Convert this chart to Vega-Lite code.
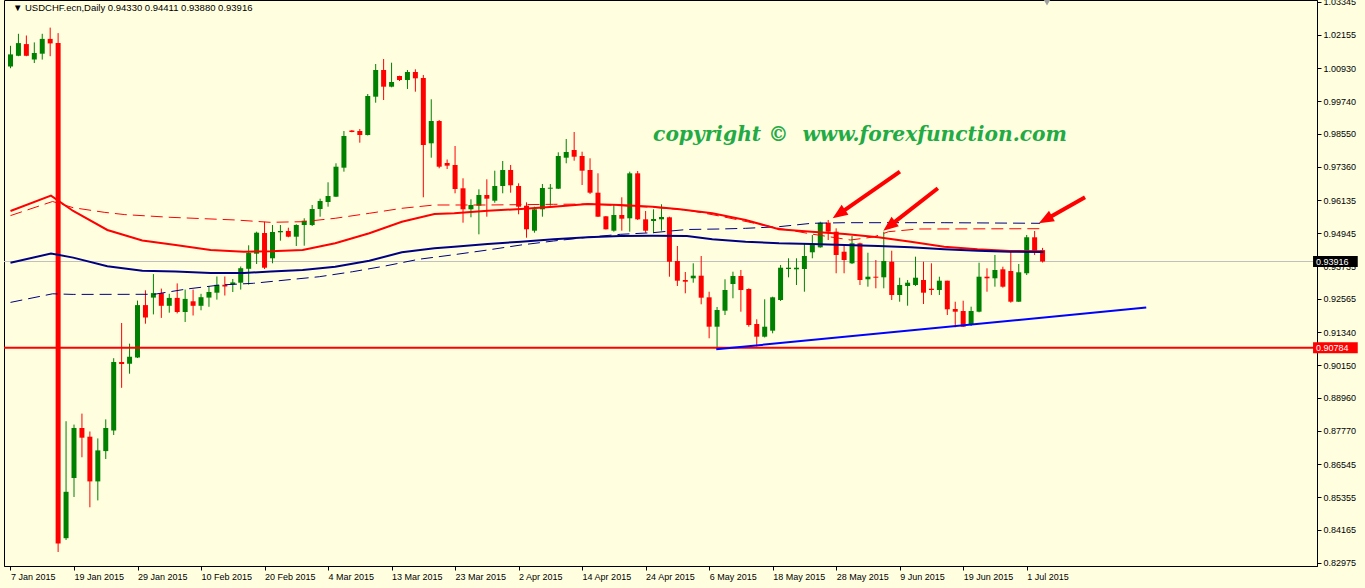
{
  "$schema": "https://vega.github.io/schema/vega-lite/v6.json",
  "width": 1313,
  "height": 566,
  "autosize": {"type": "none"},
  "padding": {"left": 4, "top": 0, "right": 48, "bottom": 22},
  "background": "#FFFFE0",
  "config": {
    "view": {"stroke": "#000000", "strokeWidth": 1, "fill": "#FFFFE0"},
    "axis": {"grid": false, "title": null, "domainColor": "#000000", "tickColor": "#000000", "labelColor": "#000000", "labelFont": "Liberation Sans", "labelFontSize": 9, "labelOverlap": false, "labelBound": false, "labelFlush": false, "tickSize": 4}
  },
  "datasets": {
    "candles": [
      {"k":0,"o":1.01000,"h":1.01752,"l":1.00938,"c":1.01440},
      {"k":1,"o":1.01389,"h":1.02188,"l":1.01374,"c":1.01850},
      {"k":2,"o":1.01814,"h":1.02126,"l":1.01374,"c":1.01389},
      {"k":3,"o":1.01251,"h":1.01876,"l":1.01127,"c":1.01487},
      {"k":4,"o":1.01465,"h":1.02188,"l":1.01251,"c":1.02003},
      {"k":5,"o":1.02003,"h":1.02413,"l":1.01374,"c":1.01839},
      {"k":6,"o":1.01850,"h":1.02213,"l":0.83364,"c":0.83676},
      {"k":7,"o":0.83865,"h":0.88115,"l":0.83800,"c":0.85551},
      {"k":8,"o":0.86052,"h":0.87992,"l":0.85362,"c":0.87868},
      {"k":9,"o":0.87868,"h":0.88391,"l":0.86804,"c":0.87516},
      {"k":10,"o":0.87552,"h":0.87741,"l":0.84988,"c":0.85928},
      {"k":11,"o":0.85928,"h":0.87490,"l":0.85238,"c":0.87055},
      {"k":12,"o":0.87029,"h":0.88181,"l":0.86742,"c":0.87868},
      {"k":13,"o":0.87777,"h":0.90404,"l":0.87614,"c":0.90266},
      {"k":14,"o":0.90266,"h":0.91682,"l":0.89328,"c":0.90193},
      {"k":15,"o":0.90204,"h":0.90931,"l":0.89841,"c":0.90455},
      {"k":16,"o":0.90429,"h":0.92496,"l":0.90411,"c":0.92333},
      {"k":17,"o":0.92333,"h":0.92870,"l":0.91657,"c":0.91882},
      {"k":18,"o":0.92605,"h":0.93459,"l":0.91995,"c":0.92769},
      {"k":19,"o":0.92769,"h":0.92932,"l":0.91868,"c":0.92307},
      {"k":20,"o":0.92307,"h":0.92743,"l":0.92057,"c":0.92594},
      {"k":21,"o":0.92594,"h":0.93121,"l":0.92031,"c":0.92082},
      {"k":22,"o":0.92082,"h":0.92896,"l":0.91719,"c":0.92558},
      {"k":23,"o":0.92471,"h":0.92896,"l":0.91955,"c":0.92307},
      {"k":24,"o":0.92307,"h":0.92743,"l":0.92144,"c":0.92620},
      {"k":25,"o":0.92605,"h":0.93019,"l":0.92271,"c":0.92808},
      {"k":26,"o":0.92783,"h":0.93372,"l":0.92532,"c":0.93070},
      {"k":27,"o":0.93070,"h":0.93372,"l":0.92681,"c":0.93008},
      {"k":28,"o":0.93081,"h":0.93281,"l":0.92808,"c":0.93157},
      {"k":29,"o":0.93146,"h":0.93735,"l":0.92896,"c":0.93673},
      {"k":30,"o":0.93651,"h":0.94505,"l":0.93074,"c":0.94232},
      {"k":31,"o":0.94200,"h":0.94999,"l":0.93826,"c":0.94963},
      {"k":32,"o":0.94952,"h":0.95362,"l":0.93644,"c":0.93691},
      {"k":33,"o":0.94033,"h":0.95242,"l":0.93851,"c":0.94988},
      {"k":34,"o":0.94977,"h":0.95242,"l":0.94672,"c":0.95024},
      {"k":35,"o":0.95024,"h":0.95144,"l":0.94796,"c":0.94817},
      {"k":36,"o":0.94817,"h":0.95268,"l":0.94480,"c":0.95242},
      {"k":37,"o":0.95242,"h":0.95486,"l":0.94490,"c":0.95399},
      {"k":38,"o":0.95242,"h":0.95969,"l":0.95206,"c":0.95824},
      {"k":39,"o":0.95824,"h":0.96198,"l":0.95544,"c":0.96114},
      {"k":40,"o":0.96078,"h":0.96794,"l":0.95907,"c":0.96296},
      {"k":41,"o":0.96270,"h":0.97484,"l":0.96260,"c":0.97360},
      {"k":42,"o":0.97324,"h":0.98657,"l":0.97179,"c":0.98475},
      {"k":43,"o":0.98675,"h":0.98693,"l":0.98610,"c":0.98621},
      {"k":44,"o":0.98657,"h":0.98730,"l":0.98232,"c":0.98512},
      {"k":45,"o":0.98512,"h":1.00001,"l":0.98494,"c":0.99928},
      {"k":46,"o":0.99903,"h":1.01091,"l":0.99685,"c":1.00873},
      {"k":47,"o":1.00873,"h":1.01272,"l":0.99783,"c":1.00266},
      {"k":48,"o":1.00266,"h":1.01138,"l":1.00244,"c":1.00437},
      {"k":49,"o":1.00655,"h":1.00666,"l":1.00473,"c":1.00510},
      {"k":50,"o":1.00510,"h":1.00873,"l":1.00183,"c":1.00800},
      {"k":51,"o":1.00800,"h":1.00898,"l":1.00085,"c":1.00571},
      {"k":52,"o":1.00582,"h":1.00691,"l":0.96249,"c":0.98148},
      {"k":53,"o":0.98210,"h":0.99809,"l":0.97687,"c":0.99020},
      {"k":54,"o":0.99020,"h":0.99057,"l":0.97302,"c":0.97360},
      {"k":55,"o":0.97495,"h":0.97622,"l":0.97277,"c":0.97397},
      {"k":56,"o":0.97422,"h":0.98112,"l":0.96394,"c":0.96550},
      {"k":57,"o":0.96576,"h":0.96939,"l":0.95326,"c":0.95813},
      {"k":58,"o":0.95813,"h":0.96176,"l":0.95522,"c":0.95969},
      {"k":59,"o":0.95943,"h":0.96539,"l":0.94904,"c":0.96332},
      {"k":60,"o":0.96332,"h":0.96902,"l":0.95544,"c":0.96198},
      {"k":61,"o":0.96125,"h":0.97215,"l":0.96052,"c":0.96659},
      {"k":62,"o":0.96659,"h":0.97567,"l":0.96394,"c":0.97240},
      {"k":63,"o":0.97240,"h":0.97422,"l":0.96416,"c":0.96685},
      {"k":64,"o":0.96659,"h":0.96757,"l":0.95631,"c":0.95907},
      {"k":65,"o":0.95943,"h":0.96067,"l":0.94781,"c":0.95086},
      {"k":66,"o":0.95035,"h":0.95907,"l":0.94963,"c":0.95813},
      {"k":67,"o":0.95813,"h":0.96732,"l":0.95544,"c":0.96586},
      {"k":68,"o":0.96561,"h":0.96732,"l":0.95943,"c":0.96597},
      {"k":69,"o":0.96561,"h":0.97883,"l":0.96550,"c":0.97749},
      {"k":70,"o":0.97687,"h":0.98366,"l":0.97484,"c":0.97894},
      {"k":71,"o":0.97967,"h":0.98621,"l":0.97578,"c":0.97723},
      {"k":72,"o":0.97749,"h":0.97905,"l":0.96695,"c":0.97215},
      {"k":73,"o":0.97240,"h":0.97665,"l":0.96369,"c":0.96416},
      {"k":74,"o":0.96416,"h":0.97120,"l":0.95533,"c":0.95544},
      {"k":75,"o":0.95558,"h":0.95569,"l":0.95079,"c":0.95086},
      {"k":76,"o":0.95035,"h":0.95994,"l":0.94999,"c":0.95606},
      {"k":77,"o":0.95606,"h":0.96249,"l":0.95035,"c":0.95471},
      {"k":78,"o":0.95486,"h":0.97179,"l":0.94999,"c":0.97120},
      {"k":79,"o":0.97120,"h":0.97204,"l":0.95424,"c":0.95449},
      {"k":80,"o":0.95449,"h":0.95751,"l":0.94963,"c":0.95035},
      {"k":81,"o":0.95388,"h":0.95813,"l":0.94941,"c":0.95460},
      {"k":82,"o":0.95449,"h":0.95994,"l":0.95035,"c":0.95533},
      {"k":83,"o":0.95522,"h":0.95544,"l":0.93364,"c":0.93909},
      {"k":84,"o":0.93935,"h":0.94480,"l":0.93027,"c":0.93219},
      {"k":85,"o":0.93244,"h":0.93535,"l":0.92761,"c":0.93183},
      {"k":86,"o":0.93306,"h":0.93851,"l":0.93146,"c":0.93401},
      {"k":87,"o":0.93401,"h":0.94116,"l":0.92362,"c":0.92601},
      {"k":88,"o":0.92616,"h":0.92819,"l":0.91127,"c":0.91548},
      {"k":89,"o":0.91548,"h":0.92264,"l":0.90740,"c":0.92155},
      {"k":90,"o":0.92129,"h":0.93270,"l":0.91973,"c":0.92881},
      {"k":91,"o":0.93099,"h":0.93546,"l":0.92580,"c":0.93390},
      {"k":92,"o":0.93390,"h":0.93608,"l":0.92093,"c":0.92881},
      {"k":93,"o":0.92917,"h":0.92943,"l":0.91548,"c":0.91610},
      {"k":94,"o":0.91646,"h":0.91817,"l":0.90829,"c":0.91185},
      {"k":95,"o":0.91185,"h":0.92543,"l":0.91156,"c":0.91548},
      {"k":96,"o":0.91403,"h":0.92638,"l":0.91308,"c":0.92616},
      {"k":97,"o":0.92518,"h":0.93789,"l":0.92482,"c":0.93691},
      {"k":98,"o":0.93644,"h":0.94033,"l":0.93342,"c":0.93691},
      {"k":99,"o":0.93633,"h":0.94033,"l":0.93063,"c":0.93691},
      {"k":100,"o":0.93644,"h":0.94578,"l":0.92819,"c":0.94116},
      {"k":101,"o":0.94251,"h":0.94879,"l":0.94033,"c":0.94541},
      {"k":102,"o":0.94432,"h":0.95362,"l":0.94418,"c":0.95326},
      {"k":103,"o":0.95326,"h":0.95424,"l":0.94697,"c":0.94999},
      {"k":104,"o":0.94999,"h":0.95122,"l":0.93488,"c":0.94153},
      {"k":105,"o":0.94272,"h":0.94516,"l":0.93488,"c":0.93971},
      {"k":106,"o":0.93851,"h":0.94843,"l":0.93826,"c":0.94578},
      {"k":107,"o":0.94578,"h":0.94599,"l":0.93063,"c":0.93244},
      {"k":108,"o":0.93270,"h":0.94236,"l":0.93001,"c":0.93364},
      {"k":109,"o":0.93364,"h":0.93971,"l":0.92943,"c":0.93328},
      {"k":110,"o":0.93342,"h":0.94999,"l":0.92943,"c":0.93935},
      {"k":111,"o":0.93909,"h":0.94309,"l":0.92518,"c":0.92700},
      {"k":112,"o":0.92700,"h":0.93328,"l":0.92456,"c":0.93063},
      {"k":113,"o":0.93027,"h":0.93244,"l":0.92311,"c":0.93146},
      {"k":114,"o":0.93063,"h":0.94091,"l":0.93027,"c":0.93328},
      {"k":115,"o":0.93244,"h":0.93909,"l":0.92373,"c":0.92783},
      {"k":116,"o":0.92928,"h":0.93851,"l":0.92700,"c":0.92881},
      {"k":117,"o":0.92881,"h":0.93364,"l":0.92700,"c":0.93219},
      {"k":118,"o":0.93219,"h":0.93219,"l":0.91973,"c":0.92180},
      {"k":119,"o":0.92191,"h":0.92456,"l":0.91526,"c":0.92093},
      {"k":120,"o":0.92118,"h":0.92492,"l":0.91537,"c":0.91548},
      {"k":121,"o":0.91610,"h":0.92275,"l":0.91573,"c":0.92118},
      {"k":122,"o":0.92093,"h":0.93873,"l":0.92071,"c":0.93364},
      {"k":123,"o":0.93364,"h":0.93669,"l":0.92819,"c":0.93306},
      {"k":124,"o":0.93306,"h":0.94153,"l":0.93001,"c":0.93608},
      {"k":125,"o":0.93633,"h":0.93728,"l":0.92965,"c":0.93001},
      {"k":126,"o":0.93571,"h":0.94334,"l":0.92420,"c":0.92456},
      {"k":127,"o":0.92456,"h":0.93826,"l":0.92445,"c":0.93524},
      {"k":128,"o":0.93488,"h":0.94879,"l":0.93426,"c":0.94796},
      {"k":129,"o":0.94796,"h":0.95024,"l":0.94153,"c":0.94272},
      {"k":130,"o":0.94330,"h":0.94411,"l":0.93880,"c":0.93916}
    ],
    "maRed": [
      {"k":0,"p":0.95751},{"k":5.1,"p":0.96310},{"k":7.9,"p":0.95751},{"k":12.2,"p":0.95061},{"k":16.6,"p":0.94683},{"k":20.8,"p":0.94516},{"k":25.2,"p":0.94334},{"k":29.4,"p":0.94272},{"k":32.8,"p":0.94287},{"k":36.8,"p":0.94334},{"k":40.9,"p":0.94578},{"k":45.2,"p":0.94941},{"k":49.3,"p":0.95362},{"k":53.4,"p":0.95642},{"k":55.9,"p":0.95667},{"k":60.1,"p":0.95762},{"k":64.3,"p":0.95824},{"k":68.4,"p":0.95907},{"k":72.7,"p":0.96005},{"k":76.8,"p":0.95969},{"k":80.9,"p":0.95907},{"k":84.3,"p":0.95813},{"k":88.4,"p":0.95667},{"k":92.6,"p":0.95424},{"k":96.8,"p":0.95086},{"k":100.9,"p":0.94999},{"k":105.1,"p":0.94915},{"k":109.3,"p":0.94796},{"k":113.4,"p":0.94636},{"k":117.6,"p":0.94454},{"k":121.8,"p":0.94360},{"k":125.9,"p":0.94298},{"k":130.1,"p":0.94287}
    ],
    "maRedDash": [
      {"k":0,"p":0.95584},{"k":5.3,"p":0.96096},{"k":7.9,"p":0.95871},{"k":11.8,"p":0.95704},{"k":14.4,"p":0.95620},{"k":20.1,"p":0.95522},{"k":28.4,"p":0.95424},{"k":32.7,"p":0.95340},{"k":36.8,"p":0.95362},{"k":40.9,"p":0.95486},{"k":45.2,"p":0.95667},{"k":49.3,"p":0.95849},{"k":53.4,"p":0.95969},{"k":60.1,"p":0.95969},{"k":68.4,"p":0.95994},{"k":72.7,"p":0.96005},{"k":80.9,"p":0.95885},{"k":85.2,"p":0.95788},{"k":89.3,"p":0.95569},{"k":96.8,"p":0.95122},{"k":100.9,"p":0.94915},{"k":105.8,"p":0.94697},{"k":108.7,"p":0.94806},{"k":110.6,"p":0.94999},{"k":114.3,"p":0.95097},{"k":129.9,"p":0.95108}
    ],
    "maNavy": [
      {"k":0,"p":0.93869},{"k":5.1,"p":0.94207},{"k":7.9,"p":0.94058},{"k":12.2,"p":0.93746},{"k":16.6,"p":0.93582},{"k":20.8,"p":0.93557},{"k":25.2,"p":0.93499},{"k":29.4,"p":0.93499},{"k":32.8,"p":0.93557},{"k":36.8,"p":0.93608},{"k":40.9,"p":0.93728},{"k":45.2,"p":0.93946},{"k":49.3,"p":0.94251},{"k":53.4,"p":0.94396},{"k":55.9,"p":0.94454},{"k":60.1,"p":0.94552},{"k":64.3,"p":0.94636},{"k":68.4,"p":0.94723},{"k":72.7,"p":0.94796},{"k":76.8,"p":0.94843},{"k":80.9,"p":0.94854},{"k":85.2,"p":0.94843},{"k":88.4,"p":0.94723},{"k":92.6,"p":0.94636},{"k":96.8,"p":0.94578},{"k":100.9,"p":0.94552},{"k":105.1,"p":0.94516},{"k":109.3,"p":0.94480},{"k":113.4,"p":0.94432},{"k":117.6,"p":0.94360},{"k":121.8,"p":0.94309},{"k":125.9,"p":0.94272},{"k":130.1,"p":0.94261}
    ],
    "maNavyDash": [
      {"k":0,"p":0.92431},{"k":5.3,"p":0.92743},{"k":7.9,"p":0.92721},{"k":18.1,"p":0.92725},{"k":22.2,"p":0.92917},{"k":26.4,"p":0.93063},{"k":30.6,"p":0.93125},{"k":34.7,"p":0.93244},{"k":38.9,"p":0.93364},{"k":43.1,"p":0.93546},{"k":47.2,"p":0.93753},{"k":51.4,"p":0.93996},{"k":55.6,"p":0.94153},{"k":60.1,"p":0.94334},{"k":64.3,"p":0.94516},{"k":68.4,"p":0.94661},{"k":72.7,"p":0.94796},{"k":76.8,"p":0.94904},{"k":80.9,"p":0.94963},{"k":85.2,"p":0.95079},{"k":89.3,"p":0.95097},{"k":92.6,"p":0.95122},{"k":96.8,"p":0.95181},{"k":100.9,"p":0.95304},{"k":105.1,"p":0.95326},{"k":117.6,"p":0.95326},{"k":129.7,"p":0.95304}
    ],
    "trend": [{"k":88.9,"p":0.90727},{"k":143.06,"p":0.92242}],
    "arrows": [
      {"k1":112.03,"p1":0.97179,"k2":104.39,"p2":0.95649},
      {"k1":116.81,"p1":0.96576,"k2":110.73,"p2":0.95213},
      {"k1":135.35,"p1":0.96249,"k2":130.4,"p2":0.95446}
    ]
  },
  "layer": [
    {
      "data": {"values": [{"p": 0.93916}]},
      "mark": {"type": "rule", "color": "#C0C0C0", "strokeWidth": 1},
      "encoding": {
        "y": {"field": "p", "type": "quantitative", "scale": {"domain": [0.828552, 1.034157], "nice": false, "zero": false},
          "axis": {"orient": "right", "values": [1.03345, 1.02155, 1.0093, 0.9974, 0.9855, 0.9736, 0.96135, 0.94945, 0.93735, 0.92565, 0.9134, 0.9015, 0.8896, 0.8777, 0.86545, 0.85355, 0.84165, 0.82975], "tickCount": 40, "format": ".5f", "labelPadding": 2, "labelAlign": "left", "labelOverlap": false, "labelBound": false}}
      }
    },
    {
      "data": {"name": "candles"},
      "mark": {"type": "rule", "strokeWidth": 1, "clip": true},
      "encoding": {
        "x": {"field": "k", "type": "quantitative", "scale": {"domain": [-0.1875, 163.9375], "nice": false, "zero": false},
          "axis": {"values": [0, 8, 16, 24, 32, 40, 48, 56, 64, 72, 80, 88, 96, 104, 112, 120, 128], "tickCount": 40,
            "labelExpr": "['7 Jan 2015','19 Jan 2015','29 Jan 2015','10 Feb 2015','20 Feb 2015','4 Mar 2015','13 Mar 2015','23 Mar 2015','2 Apr 2015','14 Apr 2015','24 Apr 2015','6 May 2015','18 May 2015','28 May 2015','9 Jun 2015','19 Jun 2015','1 Jul 2015'][round(datum.value / 8)]",
            "labelAlign": "left", "labelDx": 1, "labelPadding": 2, "labelOverlap": false}},
        "y": {"field": "l", "type": "quantitative", "scale": {"domain": [0.828552, 1.034157], "nice": false, "zero": false}},
        "y2": {"field": "h"},
        "color": {"condition": {"test": "datum.c < datum.o", "value": "#FF0000"}, "value": "#008000"}
      }
    },
    {
      "data": {"name": "candles"},
      "mark": {"type": "bar", "width": 5, "clip": true},
      "encoding": {
        "x": {"field": "k", "type": "quantitative", "scale": {"domain": [-0.1875, 163.9375], "nice": false, "zero": false}},
        "y": {"field": "o", "type": "quantitative", "scale": {"domain": [0.828552, 1.034157], "nice": false, "zero": false}},
        "y2": {"field": "c"},
        "color": {"condition": {"test": "datum.c < datum.o", "value": "#FF0000"}, "value": "#008000"}
      }
    },
    {
      "data": {"name": "maRedDash"},
      "mark": {"type": "line", "color": "#FF0000", "strokeWidth": 1, "strokeDash": [12, 6], "clip": true},
      "encoding": {
        "x": {"field": "k", "type": "quantitative", "scale": {"domain": [-0.1875, 163.9375], "nice": false, "zero": false}},
        "y": {"field": "p", "type": "quantitative", "scale": {"domain": [0.828552, 1.034157], "nice": false, "zero": false}}
      }
    },
    {
      "data": {"name": "maNavyDash"},
      "mark": {"type": "line", "color": "#000080", "strokeWidth": 1, "strokeDash": [12, 6], "clip": true},
      "encoding": {
        "x": {"field": "k", "type": "quantitative", "scale": {"domain": [-0.1875, 163.9375], "nice": false, "zero": false}},
        "y": {"field": "p", "type": "quantitative", "scale": {"domain": [0.828552, 1.034157], "nice": false, "zero": false}}
      }
    },
    {
      "data": {"name": "maRed"},
      "mark": {"type": "line", "color": "#FF0000", "strokeWidth": 2, "clip": true},
      "encoding": {
        "x": {"field": "k", "type": "quantitative", "scale": {"domain": [-0.1875, 163.9375], "nice": false, "zero": false}},
        "y": {"field": "p", "type": "quantitative", "scale": {"domain": [0.828552, 1.034157], "nice": false, "zero": false}}
      }
    },
    {
      "data": {"name": "maNavy"},
      "mark": {"type": "line", "color": "#000080", "strokeWidth": 2, "clip": true},
      "encoding": {
        "x": {"field": "k", "type": "quantitative", "scale": {"domain": [-0.1875, 163.9375], "nice": false, "zero": false}},
        "y": {"field": "p", "type": "quantitative", "scale": {"domain": [0.828552, 1.034157], "nice": false, "zero": false}}
      }
    },
    {
      "data": {"values": [{"p": 0.90784}]},
      "mark": {"type": "rule", "color": "#FF0000", "strokeWidth": 2},
      "encoding": {
        "y": {"field": "p", "type": "quantitative", "scale": {"domain": [0.828552, 1.034157], "nice": false, "zero": false}}
      }
    },
    {
      "data": {"name": "trend"},
      "mark": {"type": "line", "color": "#0000FF", "strokeWidth": 2, "clip": true},
      "encoding": {
        "x": {"field": "k", "type": "quantitative", "scale": {"domain": [-0.1875, 163.9375], "nice": false, "zero": false}},
        "y": {"field": "p", "type": "quantitative", "scale": {"domain": [0.828552, 1.034157], "nice": false, "zero": false}}
      }
    },
    {
      "data": {"name": "arrows"},
      "mark": {"type": "rule", "color": "#FF0000", "strokeWidth": 4},
      "encoding": {
        "x": {"field": "k1", "type": "quantitative", "scale": {"domain": [-0.1875, 163.9375], "nice": false, "zero": false}},
        "x2": {"field": "k2"},
        "y": {"field": "p1", "type": "quantitative", "scale": {"domain": [0.828552, 1.034157], "nice": false, "zero": false}},
        "y2": {"field": "p2"}
      }
    },
    {
      "data": {"values": [{"k": 103.56, "p": 0.95486}]},
      "mark": {"type": "point", "shape": "M0,0L-0.6,1.5L0.6,1.5Z", "size": 400, "filled": true, "opacity": 1, "color": "#FF0000", "angle": 235.5},
      "encoding": {
        "x": {"field": "k", "type": "quantitative", "scale": {"domain": [-0.1875, 163.9375], "nice": false, "zero": false}},
        "y": {"field": "p", "type": "quantitative", "scale": {"domain": [0.828552, 1.034157], "nice": false, "zero": false}}
      }
    },
    {
      "data": {"values": [{"k": 109.94, "p": 0.95035}]},
      "mark": {"type": "point", "shape": "M0,0L-0.6,1.5L0.6,1.5Z", "size": 400, "filled": true, "opacity": 1, "color": "#FF0000", "angle": 232.4},
      "encoding": {
        "x": {"field": "k", "type": "quantitative", "scale": {"domain": [-0.1875, 163.9375], "nice": false, "zero": false}},
        "y": {"field": "p", "type": "quantitative", "scale": {"domain": [0.828552, 1.034157], "nice": false, "zero": false}}
      }
    },
    {
      "data": {"values": [{"k": 129.53, "p": 0.95304}]},
      "mark": {"type": "point", "shape": "M0,0L-0.6,1.5L0.6,1.5Z", "size": 400, "filled": true, "opacity": 1, "color": "#FF0000", "angle": 240.8},
      "encoding": {
        "x": {"field": "k", "type": "quantitative", "scale": {"domain": [-0.1875, 163.9375], "nice": false, "zero": false}},
        "y": {"field": "p", "type": "quantitative", "scale": {"domain": [0.828552, 1.034157], "nice": false, "zero": false}}
      }
    },
    {
      "data": {"values": [{"k": 130.56, "p": 1.0332}]},
      "mark": {"type": "point", "shape": "triangle-down", "size": 45, "filled": true, "opacity": 1, "color": "#A0A0A0"},
      "encoding": {
        "x": {"field": "k", "type": "quantitative", "scale": {"domain": [-0.1875, 163.9375], "nice": false, "zero": false}},
        "y": {"field": "p", "type": "quantitative", "scale": {"domain": [0.828552, 1.034157], "nice": false, "zero": false}}
      }
    },
    {
      "data": {"values": [{"t": "▼  USDCHF.ecn,Daily  0.94330 0.94411 0.93880 0.93916"}]},
      "mark": {"type": "text", "align": "left", "baseline": "middle", "font": "Liberation Sans", "fontSize": 9.5, "color": "#000000"},
      "encoding": {
        "x": {"datum": 0.31, "type": "quantitative", "scale": {"domain": [-0.1875, 163.9375], "nice": false, "zero": false}},
        "y": {"datum": 1.03114, "type": "quantitative", "scale": {"domain": [0.828552, 1.034157], "nice": false, "zero": false}},
        "text": {"field": "t"}
      }
    },
    {
      "data": {"values": [{"t": "copyright © \u00a0www.forexfunction.com"}]},
      "mark": {"type": "text", "align": "center", "baseline": "middle", "font": "DejaVu Serif", "fontSize": 20.2, "fontStyle": "italic", "fontWeight": "bold", "color": "#22AA44"},
      "encoding": {
        "x": {"datum": 107.0, "type": "quantitative", "scale": {"domain": [-0.1875, 163.9375], "nice": false, "zero": false}},
        "y": {"datum": 0.98512, "type": "quantitative", "scale": {"domain": [0.828552, 1.034157], "nice": false, "zero": false}},
        "text": {"field": "t"}
      }
    },
    {
      "data": {"values": [{"p": 0.93916, "t": "0.93916", "box": "bid"}, {"p": 0.90784, "t": "0.90784", "box": "level"}]},
      "mark": {"type": "rule", "strokeWidth": 11, "clip": false, "strokeCap": "butt"},
      "encoding": {
        "x": {"datum": 164.07, "type": "quantitative", "scale": {"domain": [-0.1875, 163.9375], "nice": false, "zero": false}},
        "x2": {"datum": 169.7},
        "y": {"field": "p", "type": "quantitative", "scale": {"domain": [0.828552, 1.034157], "nice": false, "zero": false}},
        "color": {"field": "box", "type": "nominal", "scale": {"domain": ["bid", "level"], "range": ["#000000", "#FF0000"]}, "legend": null}
      }
    },
    {
      "data": {"values": [{"p": 0.93916, "t": "0.93916"}, {"p": 0.90784, "t": "0.90784"}]},
      "mark": {"type": "text", "align": "left", "baseline": "middle", "font": "Liberation Sans", "fontSize": 9, "color": "#FFFFFF", "clip": false},
      "encoding": {
        "x": {"datum": 164.44, "type": "quantitative", "scale": {"domain": [-0.1875, 163.9375], "nice": false, "zero": false}},
        "y": {"field": "p", "type": "quantitative", "scale": {"domain": [0.828552, 1.034157], "nice": false, "zero": false}},
        "text": {"field": "t"}
      }
    }
  ]
}
